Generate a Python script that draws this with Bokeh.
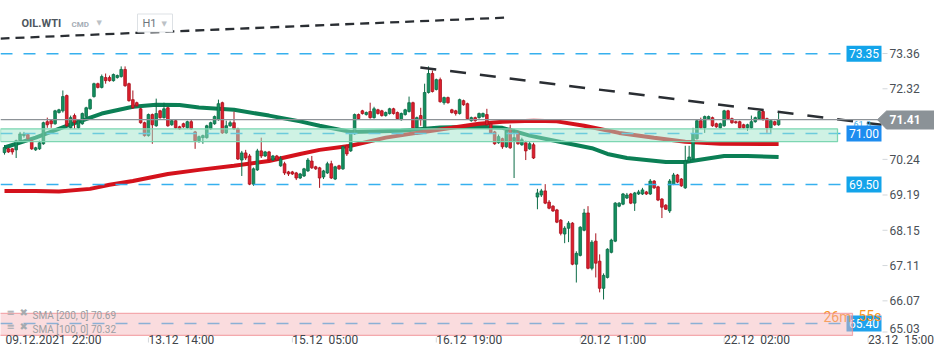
from bokeh.plotting import figure
from bokeh.models import Range1d, FixedTicker, ColumnDataSource
from bokeh.core.properties import value
from bokeh.embed import file_html
from bokeh.resources import INLINE

# ---------------- data (OIL.WTI, H1) ----------------
O = [70.44, 70.55, 70.55, 70.52, 70.79, 70.94, 70.97, 70.79, 70.52, 70.55,
     70.70, 71.35, 71.38, 71.29, 71.62, 71.67, 72.12, 71.17, 71.53, 71.17,
     71.29, 71.50, 71.73, 72.09, 72.47, 72.36, 72.65, 72.65, 72.56, 72.65,
     72.68, 72.89, 72.47, 72.00, 71.91, 71.73, 71.32, 70.94, 71.56, 71.23,
     71.67, 71.47, 71.76, 71.26, 71.38, 71.20, 71.29, 71.17, 71.35, 71.05,
     70.79, 70.88, 70.88, 71.14, 71.29, 71.41, 71.91, 71.02, 71.23, 71.32,
     71.14, 70.22, 70.43, 70.34, 69.51, 69.93, 70.49, 70.34, 70.46, 70.22,
     70.34, 70.05, 70.11, 69.87, 69.87, 69.84, 69.69, 69.75, 69.90, 70.19,
     70.02, 69.99, 69.72, 69.84, 70.11, 69.66, 70.05, 69.96, 70.64, 70.49,
     70.99, 71.56, 71.67, 71.56, 71.65, 71.47, 71.70, 71.67, 71.53, 71.59,
     71.73, 71.62, 71.41, 71.56, 71.65, 71.91, 71.17, 71.53, 71.17, 72.21,
     72.77, 72.30, 72.59, 71.91, 72.06, 71.70, 71.67, 71.59, 71.97, 71.88,
     71.38, 71.47, 71.47, 71.50, 71.56, 71.29, 71.05, 70.73, 70.85, 70.61,
     71.14, 70.79, 71.02, 70.67, 70.73, 70.55, 70.67, 69.13, 69.19, 69.31,
     68.98, 68.86, 68.75, 68.45, 68.04, 68.21, 68.36, 67.15, 67.41, 68.15,
     68.66, 67.03, 67.83, 67.24, 66.44, 66.76, 67.50, 67.83, 68.86, 68.92,
     69.10, 69.22, 68.95, 69.22, 69.22, 69.28, 69.22, 69.60, 69.43, 69.07,
     68.89, 68.72, 69.51, 69.78, 69.66, 69.40, 70.17, 70.25, 70.85, 71.38,
     71.17, 71.44, 71.47, 71.29, 71.17, 71.23, 71.67, 71.44, 71.35, 71.35,
     71.26, 71.17, 71.17, 71.35, 71.44, 71.65, 71.44, 71.17, 71.35, 71.26]

H = [70.66, 70.58, 70.57, 70.82, 71.05, 71.05, 71.00, 70.82, 70.61, 70.79,
     71.35, 71.47, 71.41, 71.70, 71.73, 72.27, 72.15, 71.53, 71.59, 71.41,
     71.62, 71.79, 72.03, 72.50, 72.50, 72.74, 72.77, 72.71, 72.77, 72.74,
     72.98, 72.98, 72.50, 72.27, 71.94, 71.76, 71.35, 71.59, 71.59, 72.03,
     71.70, 71.91, 71.79, 71.41, 71.41, 71.23, 71.32, 71.38, 71.41, 71.08,
     70.94, 70.97, 71.26, 71.35, 71.53, 72.00, 71.94, 71.38, 71.38, 71.65,
     71.17, 70.49, 70.52, 70.40, 70.00, 70.55, 70.88, 70.49, 70.49, 70.37,
     70.37, 70.34, 70.17, 69.90, 69.90, 69.87, 69.84, 69.99, 70.28, 70.34,
     70.05, 70.02, 69.93, 70.17, 70.20, 70.05, 70.08, 70.64, 70.67, 71.05,
     71.59, 71.59, 71.70, 71.65, 71.91, 71.79, 71.73, 71.70, 71.65, 71.76,
     71.76, 71.65, 71.62, 71.73, 72.09, 71.94, 71.50, 71.76, 72.47, 72.98,
     72.86, 72.62, 72.65, 72.09, 72.09, 71.73, 71.70, 72.03, 72.00, 71.91,
     71.50, 71.50, 71.62, 71.62, 71.73, 71.32, 71.08, 70.97, 70.88, 71.11,
     71.26, 71.14, 71.08, 70.88, 70.79, 70.76, 70.73, 69.37, 69.37, 69.51,
     69.04, 68.89, 68.78, 68.48, 68.27, 68.42, 68.39, 67.53, 68.27, 68.78,
     68.86, 67.86, 68.06, 67.44, 66.88, 67.62, 67.90, 68.98, 68.98, 69.25,
     69.25, 69.25, 69.28, 69.34, 69.40, 69.31, 69.66, 69.63, 69.46, 69.10,
     68.92, 69.66, 69.84, 69.81, 69.69, 70.64, 70.64, 71.17, 71.41, 71.47,
     71.53, 71.53, 71.50, 71.32, 71.32, 71.70, 71.70, 71.47, 71.38, 71.38,
     71.29, 71.29, 71.53, 71.50, 71.68, 71.68, 71.47, 71.41, 71.38, 71.62]

L = [70.38, 70.43, 70.38, 70.28, 70.76, 70.88, 70.82, 70.52, 70.49, 70.52,
     70.67, 71.17, 71.17, 71.26, 71.59, 71.62, 71.20, 71.14, 71.14, 71.14,
     71.26, 71.47, 71.70, 72.06, 72.33, 72.33, 72.47, 72.53, 72.53, 72.62,
     72.65, 72.38, 71.94, 71.73, 71.79, 71.29, 70.91, 70.91, 70.70, 71.20,
     71.44, 71.44, 71.20, 71.23, 71.14, 71.11, 71.17, 71.14, 71.11, 70.55,
     70.73, 70.70, 70.85, 71.11, 71.26, 71.38, 70.99, 70.99, 71.20, 71.11,
     70.22, 69.75, 70.22, 69.48, 69.46, 69.90, 70.28, 70.31, 70.19, 70.19,
     70.19, 70.02, 69.78, 69.75, 69.78, 69.63, 69.66, 69.72, 69.87, 69.96,
     69.93, 69.40, 69.66, 69.81, 69.66, 69.63, 69.93, 69.93, 70.34, 70.46,
     70.96, 71.41, 71.56, 71.53, 71.44, 71.44, 71.56, 71.50, 71.50, 71.56,
     71.56, 71.41, 71.38, 71.53, 71.62, 71.14, 71.14, 71.23, 71.14, 72.18,
     72.21, 72.27, 71.91, 71.85, 71.88, 71.59, 71.53, 71.56, 71.82, 71.41,
     71.35, 71.35, 71.44, 71.47, 71.23, 70.99, 70.67, 70.70, 70.55, 70.58,
     70.55, 69.69, 70.67, 70.64, 70.22, 70.52, 70.25, 68.77, 69.13, 68.92,
     68.77, 68.69, 68.36, 68.00, 67.77, 67.80, 67.12, 66.61, 67.38, 68.12,
     67.00, 66.97, 66.76, 66.32, 66.11, 66.73, 67.47, 67.80, 68.83, 68.89,
     69.07, 68.92, 68.72, 69.19, 69.19, 69.19, 69.19, 69.37, 69.01, 68.51,
     68.75, 68.66, 69.48, 69.54, 69.43, 69.37, 70.14, 70.22, 70.82, 71.14,
     71.02, 71.41, 71.20, 71.17, 71.14, 71.20, 71.41, 71.29, 71.29, 71.14,
     71.14, 71.08, 71.14, 71.32, 71.41, 71.38, 71.02, 71.02, 71.23, 71.23]

C = [70.59, 70.46, 70.46, 70.79, 70.99, 70.99, 70.85, 70.55, 70.58, 70.73,
     71.32, 71.26, 71.29, 71.67, 71.70, 72.09, 71.23, 71.47, 71.32, 71.38,
     71.59, 71.76, 72.00, 72.47, 72.36, 72.68, 72.56, 72.56, 72.74, 72.71,
     72.89, 72.41, 71.97, 71.76, 71.82, 71.32, 70.94, 71.56, 71.26, 71.59,
     71.47, 71.73, 71.23, 71.38, 71.17, 71.14, 71.20, 71.35, 71.14, 70.79,
     70.91, 70.94, 71.23, 71.32, 71.50, 71.88, 71.02, 71.23, 71.32, 71.14,
     70.25, 70.43, 70.28, 69.51, 69.96, 70.49, 70.34, 70.46, 70.22, 70.34,
     70.22, 70.25, 69.84, 69.81, 69.81, 69.69, 69.81, 69.96, 70.22, 69.99,
     69.96, 69.69, 69.90, 70.11, 69.69, 70.02, 69.96, 70.61, 70.40, 71.02,
     71.56, 71.44, 71.59, 71.62, 71.47, 71.73, 71.59, 71.53, 71.62, 71.73,
     71.59, 71.44, 71.59, 71.70, 71.91, 71.17, 71.47, 71.41, 72.21, 72.77,
     72.24, 72.59, 71.94, 72.06, 71.91, 71.62, 71.59, 72.00, 71.85, 71.44,
     71.47, 71.38, 71.59, 71.59, 71.26, 71.02, 70.70, 70.91, 70.61, 71.08,
     70.58, 70.88, 70.70, 70.82, 70.49, 70.70, 70.28, 69.25, 69.31, 68.95,
     68.80, 68.72, 68.39, 68.06, 68.21, 68.36, 67.15, 67.47, 68.24, 68.66,
     67.03, 67.80, 67.18, 66.44, 66.82, 67.59, 67.86, 68.95, 68.95, 69.22,
     69.19, 68.95, 69.25, 69.28, 69.34, 69.22, 69.60, 69.40, 69.04, 68.83,
     68.77, 69.60, 69.78, 69.57, 69.46, 70.19, 70.31, 70.99, 71.38, 71.17,
     71.50, 71.50, 71.23, 71.20, 71.29, 71.67, 71.44, 71.32, 71.32, 71.17,
     71.17, 71.26, 71.35, 71.47, 71.65, 71.41, 71.17, 71.38, 71.26, 71.41]

# moving averages (candle index, price)
sma100_idx = [0, 8, 16, 25, 33, 39, 45, 50, 59, 68, 76, 81, 89, 102, 112, 122,
              128, 135, 143, 151, 155, 160, 165, 170, 175, 180, 185, 191, 199]
sma100_val = [70.59, 70.88, 71.23, 71.59, 71.79, 71.85, 71.84, 71.77, 71.70, 71.53,
              71.36, 71.23, 71.05, 71.08, 71.18, 71.20, 71.17, 70.94, 70.75, 70.57,
              70.40, 70.28, 70.22, 70.16, 70.16, 70.25, 70.34, 70.34, 70.31]
sma200_idx = [0, 8, 14, 22, 27, 33, 42, 50, 59, 68, 76, 81, 89, 98, 106, 115,
              122, 128, 136, 142, 149, 158, 167, 175, 184, 199]
sma200_val = [69.31, 69.31, 69.29, 69.37, 69.49, 69.60, 69.81, 69.93, 70.05, 70.19,
              70.40, 70.52, 70.64, 70.88, 71.02, 71.17, 71.29, 71.35, 71.38, 71.36,
              71.23, 71.02, 70.88, 70.76, 70.70, 70.69]

levels = [73.35, 71.00, 69.50, 65.40]
level_labels = ["73.35", "71.00", "69.50", "65.40"]
last_price = 71.41
last_label = "71.41"
y_ticks = [73.36, 72.32, 70.24, 69.19, 68.15, 67.11, 66.07, 65.03]
x_tick_idx = [0, 37, 74, 111, 148, 185, 222]
x_tick_labels = ["09.12.2021\u00a0\u00a022:00", "13.12\u00a0\u00a014:00",
                 "15.12\u00a0\u00a005:00", "16.12\u00a0\u00a019:00",
                 "20.12\u00a0\u00a011:00", "22.12\u00a0\u00a002:00",
                 "23.12\u00a0\u00a015:00"]
zone_top, zone_bottom = 71.14, 70.76
red_zone_top, red_zone_bottom = 65.70, 65.05
trend_top_idx, trend_top_val = [-1.03, 129.3], [73.80, 74.42]
trend_mid_idx, trend_mid_val = [106.9, 225.45], [72.95, 71.26]
sma_legend = ["SMA [200, 0] 70.69", "SMA [100, 0] 70.32"]

# ---------------- layout helpers (reference pixel -> data) ----------------
PX0, DPX = 4.0, 3.89      # x pixel of candle 0, pixels per candle
PY0, PPU = 53.0, 33.93    # y pixel of 73.36, pixels per price unit
W, HGT = 934, 345


def ix(px):
    return (px - PX0) / DPX


def pv(py):
    return 73.36 - (py - PY0) / PPU


def roboto_width(s, size):
    em = {".": 0.263, ":": 0.242, "\u00a0": 0.248, " ": 0.248}
    return sum(em.get(ch, 0.5615) for ch in s) * size


FONT = value("Roboto")

p = figure(frame_width=W, frame_height=HGT,
           x_range=Range1d(ix(0), ix(W)), y_range=Range1d(pv(HGT), pv(0)),
           x_axis_location="below", y_axis_location="right",
           min_border_left=0, min_border_top=0, min_border_right=0, min_border_bottom=0,
           output_backend="svg", toolbar_location=None)
p.outline_line_color = None
p.grid.visible = False
p.background_fill_color = "white"
p.border_fill_color = "white"

# price axis: drawn inside the frame area at the right (labels start at x=889)
ytick_pos = [t if t > pv(330) else pv(328) for t in y_ticks]
p.yaxis.ticker = FixedTicker(ticks=ytick_pos)
p.yaxis.major_label_overrides = {tp: f"{t:.2f}" for tp, t in zip(ytick_pos, y_ticks)}
p.yaxis.fixed_location = ix(919)
p.yaxis.axis_line_color = None
p.yaxis.major_tick_in = 0
p.yaxis.major_tick_out = 0
p.yaxis.major_tick_line_color = None
p.yaxis.minor_tick_line_color = None
p.yaxis.major_label_standoff = -30
p.yaxis.major_label_text_font = "Roboto"
p.yaxis.major_label_text_font_size = "12px"
p.yaxis.major_label_text_color = "#4a5056"

# time axis: labels start at each time tick (left aligned via centre offset)
x_ticks = [ix(max(PX0 + t * DPX, 5) + roboto_width(s, 12) / 2)
           for t, s in zip(x_tick_idx, x_tick_labels)]
p.xaxis.ticker = FixedTicker(ticks=x_ticks)
p.xaxis.major_label_overrides = {t: s for t, s in zip(x_ticks, x_tick_labels)}
p.xaxis.fixed_location = pv(HGT)
p.xaxis.axis_line_color = None
p.xaxis.major_tick_in = 0
p.xaxis.major_tick_out = 0
p.xaxis.major_tick_line_color = None
p.xaxis.minor_tick_line_color = None
p.xaxis.major_label_standoff = -13
p.xaxis.major_label_text_font = "Roboto"
p.xaxis.major_label_text_font_size = "12px"
p.xaxis.major_label_text_color = "#3f454a"

# small axis tick marks
p.segment(x0=[ix(882)] * len(y_ticks), y0=y_ticks[:-1] + [pv(331.5)],
          x1=[ix(887)] * len(y_ticks), y1=y_ticks[:-1] + [pv(331.5)],
          line_color="#d3d7db", line_width=1)
p.segment(x0=x_tick_idx[1:], y0=[pv(337)] * 6, x1=x_tick_idx[1:], y1=[pv(342)] * 6,
          line_color="#d3d7db", line_width=1)

# moving averages
p.line(sma100_idx, sma100_val, line_color="#0b7f55", line_width=4)
p.line(sma200_idx, sma200_val, line_color="#d4121c", line_width=4)

# candles
idx = list(range(len(O)))
up = [c >= o for o, c in zip(O, C)]
for is_up, fill, edge in [(True, "#13905f", "#0b6b46"), (False, "#de1f2d", "#a9121d")]:
    sel = [i for i in idx if up[i] == is_up]
    src = ColumnDataSource(dict(
        x=sel,
        hi=[max(H[i], O[i], C[i]) for i in sel],
        lo=[min(L[i], O[i], C[i]) for i in sel],
        top=[max(O[i], C[i]) for i in sel],
        bot=[min(O[i], C[i]) for i in sel],
    ))
    p.segment(x0="x", y0="lo", x1="x", y1="hi", source=src, line_color=edge, line_width=1)
    p.vbar(x="x", top="top", bottom="bot", width=0.68, source=src,
           fill_color=fill, line_color=edge, line_width=0.8)

# horizontal levels (dashed)
box_x = ix(863.5)
p.segment(x0=[ix(0)] * len(levels), y0=levels, x1=[ix(846)] * len(levels), y1=levels,
          line_color="#36b0ee", line_width=1.5, line_dash="12 11")

# support zone
p.quad(left=[ix(0)], right=[ix(837)], top=[zone_top], bottom=[zone_bottom],
       fill_color="#9fe5c9", fill_alpha=0.5, line_color="#7dd6b2", line_width=1.3)

# trend lines
p.line(trend_top_idx, trend_top_val, line_color="#2a2e33", line_width=2.3, line_dash="9 6")
p.line(trend_mid_idx, trend_mid_val, line_color="#2a2e33", line_width=2.5, line_dash="16 14")

# last price line
p.segment(x0=[ix(0)], y0=[last_price], x1=[ix(878)], y1=[last_price],
          line_color="#8d9297", line_width=1.2)

# small fib text
p.text(x=[ix(853)], y=[pv(124)], text=["61.8"], text_font=FONT, text_font_size=value("9px"),
       text_color="#45aee8", text_baseline="middle", text_align="left")

# level boxes
box_colors = ["#13a4ea", "#1d8cef", "#13a4ea", "#1fa2ec"]
p.rect(x=[box_x] * len(levels), y=levels, width=35, height=16, width_units="screen",
       height_units="screen", fill_color=box_colors, line_color=None)
p.text(x=[box_x] * len(levels), y=levels, text=level_labels, text_font=FONT,
       text_font_size=value("12px"), text_color="white", text_align="center",
       text_baseline="middle")

# last price tag
p.patch(x=[ix(877), ix(886), ix(940), ix(940), ix(886)],
        y=[last_price, pv(110.5), pv(110.5), pv(128.5), pv(128.5)],
        fill_color="#8b9297", line_color="#8b9297", line_width=1)
p.text(x=[ix(889)], y=[last_price], text=[last_label], text_font=FONT,
       text_font_size=value("12px"), text_font_style="bold", text_color="white",
       text_align="left", text_baseline="middle")

# countdown
p.text(x=[ix(823), ix(858)], y=[pv(316), pv(315)], text=["26m", "55s"], text_font=FONT,
       text_font_size=value("14px"), text_color="#f7931e", text_align="left",
       text_baseline="middle")

# zone at bottom
p.quad(left=[ix(-2)], right=[ix(852)], top=[red_zone_top], bottom=[red_zone_bottom],
       fill_color="#f5b1b5", fill_alpha=0.45, line_color="#f08c92", line_alpha=0.7,
       line_width=1.2)

# indicator legend
p.text(x=[ix(32), ix(32)], y=[pv(315), pv(329)], text=sma_legend, text_font=FONT,
       text_font_size=value("10px"), text_color="#9a9ea2", text_align="left",
       text_baseline="middle")
p.text(x=[ix(6), ix(6), ix(19), ix(19)], y=[pv(312), pv(326), pv(312), pv(326)],
       text=["\u2261", "\u2261", "\u2716", "\u2716"], text_font=value("DejaVu Sans"),
       text_font_size=value("10px"), text_color="#a6aaae", text_align="left",
       text_baseline="middle")

# header
p.text(x=[ix(21)], y=[pv(23)], text=["OIL.WTI"], text_font=FONT, text_font_size=value("11px"),
       text_font_style="bold", text_color="#4d565e", text_align="left", text_baseline="middle")
p.text(x=[ix(71)], y=[pv(24)], text=["CMD"], text_font=FONT, text_font_size=value("8px"),
       text_font_style="bold", text_color="#a5adb5", text_align="left", text_baseline="middle")
p.rect(x=[ix(154.5)], y=[pv(22.5)], width=35, height=18, width_units="screen",
       height_units="screen", fill_color="white", line_color="#dde1e5", line_width=1)
p.text(x=[ix(142)], y=[pv(23)], text=["H1"], text_font=FONT, text_font_size=value("11px"),
       text_color="#6d757c", text_align="left", text_baseline="middle")
p.text(x=[ix(96), ix(161)], y=[pv(22), pv(23)], text=["\u25BC", "\u25BC"],
       text_font=value("DejaVu Sans"), text_font_size=value("7px"), text_color="#bcc1c6",
       text_align="left", text_baseline="middle")

open("out.html", "w").write(file_html(p, INLINE))
